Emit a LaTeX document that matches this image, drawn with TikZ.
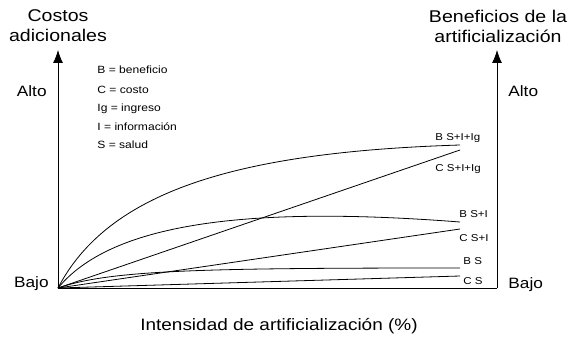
\documentclass[tikz,border=0pt]{standalone}
\usepackage{fontspec}
\setmainfont{Liberation Sans}[FakeStretch=1.15]
\usetikzlibrary{arrows.meta}

\begin{document}
\begin{tikzpicture}[x=1pt, y=-1pt, line width=.8pt,
  axis/.style={-{Latex[length=13pt, width=10pt]}},
  curvelbl/.style={anchor=base west, inner sep=0pt, font=\fontsize{10}{12}\selectfont},
  leg/.style={anchor=base west, inner sep=0pt, font=\fontsize{10.5}{12}\selectfont},
  level/.style={inner sep=0pt, font=\fontsize{15}{18}\selectfont},
  title/.style={align=center, anchor=north, inner sep=0pt, font=\fontsize{17}{20}\selectfont}]
  \useasboundingbox (0,0) rectangle (570,337);
  % axes
  \coordinate (O) at (58,288);
  \coordinate (topL) at (58,50);
  \coordinate (Ox) at (497,288);
  \coordinate (topR) at (497,50);
  \draw[axis] (O) -- (topL);
  \draw[axis] (Ox) -- (topR);
  \draw (O) -- (Ox);
  \node[title] (costos) at (58,9.5) {Costos\\adicionales};
  \node[title] (beneficios) at (498,10) {Beneficios de la\\artificialización};
  \node[level, anchor=base east] (altoL) at (47,96) {Alto};
  \node[level, anchor=base west] (altoR) at (508,96) {Alto};
  \node[level, anchor=base east] (bajoL) at (49,287) {Bajo};
  \node[level, anchor=base west] (bajoR) at (508,288) {Bajo};
  \node[level, anchor=base, font=\fontsize{16.5}{18}\selectfont] (intens) at (279,330) {Intensidad de artificialización (\%)};
  % legend
  \node[leg] (legB) at (97,74) {B = beneficio};
  \node[leg] (legC) at (97,93.3) {C = costo};
  \node[leg] (legIg) at (97,111.7) {Ig = ingreso};
  \node[leg] (legI) at (97,130) {I = información};
  \node[leg] (legS) at (97,148.3) {S = salud};
  % curves
  \coordinate (bSIIg) at (460,145);
  \coordinate (cSIIg) at (460,150);
  \coordinate (bSI) at (460,222);
  \coordinate (cSI) at (460,229);
  \coordinate (bS) at (460,268);
  \coordinate (cS) at (460,276);
  \draw (O) .. controls (108,192) and (235,152) .. (bSIIg);
  \draw (O) -- (cSIIg);
  \draw (O) .. controls (110,225) and (240,205) .. (bSI);
  \draw (O) -- (cSI);
  \draw (O) .. controls (110,270) and (200,268) .. (bS);
  \draw (O) -- (cS);
  \node[curvelbl] (lbSIIg) at (435,140.7) {B S+I+Ig};
  \node[curvelbl] (lcSIIg) at (435,171.7) {C S+I+Ig};
  \node[curvelbl] (lbSI) at (459,217) {B S+I};
  \node[curvelbl] (lcSI) at (459,241) {C S+I};
  \node[curvelbl] (lbS) at (463,264) {B S};
  \node[curvelbl] (lcS) at (463,284) {C S};
\end{tikzpicture}
\end{document}
